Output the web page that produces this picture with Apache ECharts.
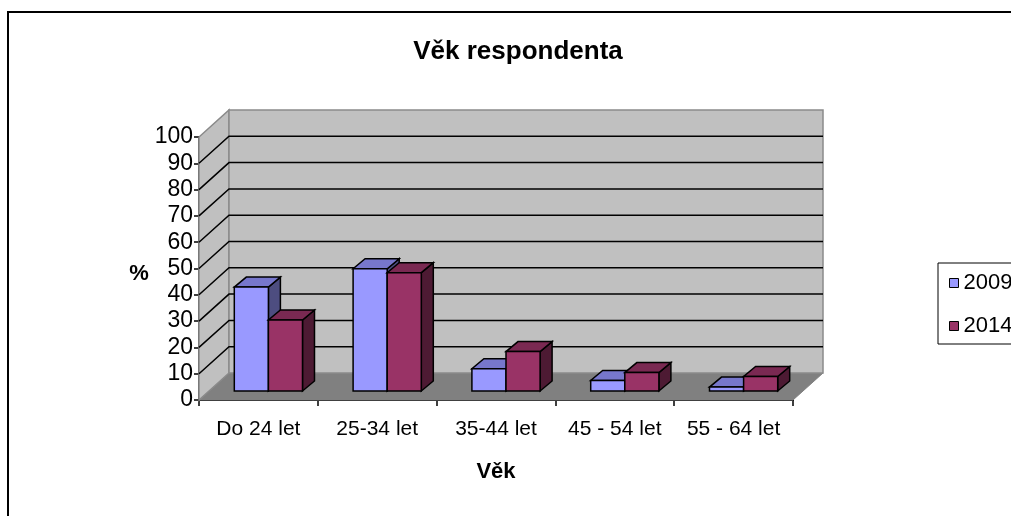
<!DOCTYPE html>
<html>
<head>
<meta charset="utf-8">
<script src="https://cdn.jsdelivr.net/npm/echarts@6/dist/echarts.min.js"></script>
<style>
  html, body { margin: 0; padding: 0; background: #fff; }
  #chart { width: 1011px; height: 516px; }
</style>
</head>
<body>
<div id="chart"></div>
<script>
// data
const categories = ['Do 24 let', '25-34 let', '35-44 let', '45 - 54 let', '55 - 64 let']
const seriesNames = ['2009', '2014']
const values2009 = [39.5, 46.5, 8.5, 4, 1.5]
const values2014 = [27, 45, 15, 7, 5.5]
const yMin = 0
const yMax = 100
const yStep = 10

// colours: front, top, side
const palette = [
  ['#9999ff', '#7777cc', '#4d4d80'],
  ['#993366', '#7a2952', '#4d1a33']
]

const FONT = 'Liberation Sans, Arial, sans-serif'
// wall depth (px) and bar placement within the depth
const DX = 30, DY = -27
const BAR_FX = 10, BAR_FY = -9
const BAR_DX = 12, BAR_DY = -10
const BAR_RATIO = 0.287

const chart = echarts.init(document.getElementById('chart'))

function renderWalls(params, api) {
  const cs = params.coordSys
  const x0 = cs.x, x1 = cs.x + cs.width
  const yb = api.coord([0, yMin])[1]
  const yt = api.coord([0, yMax])[1]
  const children = []
  // floor
  children.push({
    type: 'polygon',
    shape: { points: [[x0, yb], [x1, yb], [x1 + DX, yb + DY], [x0 + DX, yb + DY]] },
    style: { fill: '#808080', stroke: '#808080', lineWidth: 1 }
  })
  // side wall
  children.push({
    type: 'polygon',
    shape: { points: [[x0, yb], [x0, yt], [x0 + DX, yt + DY], [x0 + DX, yb + DY]] },
    style: { fill: '#c0c0c0', stroke: '#8a8a8a', lineWidth: 1.5 }
  })
  // back wall
  children.push({
    type: 'polygon',
    shape: { points: [[x0 + DX, yt + DY], [x1 + DX, yt + DY], [x1 + DX, yb + DY], [x0 + DX, yb + DY]] },
    style: { fill: '#c0c0c0', stroke: '#8a8a8a', lineWidth: 1.5 }
  })
  for (let v = yMin + yStep; v < yMax; v += yStep) {
    const y = api.coord([0, v])[1]
    children.push({
      type: 'polyline',
      shape: { points: [[x0, y], [x0 + DX, y + DY], [x1 + DX, y + DY]] },
      style: { stroke: '#000', lineWidth: 1.5, fill: null }
    })
  }
  return { type: 'group', children: children }
}

function makeBarRenderer(s) {
  const col = palette[s]
  return function (params, api) {
    const idx = api.value(0)
    const base = api.coord([idx, 0])
    const top = api.coord([idx, api.value(1)])
    const band = api.size([1, 0])[0]
    const w = band * BAR_RATIO
    const x = base[0] - w + s * w + BAR_FX
    const yb = base[1] + BAR_FY
    const yt = top[1] + BAR_FY
    const line = { stroke: '#000', lineWidth: 1.5 }
    return {
      type: 'group',
      children: [
        {
          type: 'polygon',
          shape: { points: [[x + w, yt], [x + w + BAR_DX, yt + BAR_DY], [x + w + BAR_DX, yb + BAR_DY], [x + w, yb]] },
          style: Object.assign({ fill: col[2] }, line)
        },
        {
          type: 'polygon',
          shape: { points: [[x, yt], [x + w, yt], [x + w + BAR_DX, yt + BAR_DY], [x + BAR_DX, yt + BAR_DY]] },
          style: Object.assign({ fill: col[1] }, line)
        },
        {
          type: 'rect',
          shape: { x: x, y: yt, width: w, height: yb - yt },
          style: Object.assign({ fill: col[0] }, line)
        }
      ]
    }
  }
}

const option = {
  animation: false,
  backgroundColor: '#fff',
  textStyle: { fontFamily: FONT },
  graphic: [{
    type: 'rect',
    shape: { x: 8, y: 12, width: 1100, height: 600 },
    style: { fill: null, stroke: '#000', lineWidth: 2 },
    silent: true
  }],
  title: [
    {
      text: 'Věk respondenta',
      left: 513,
      top: 34,
      textAlign: 'center',
      textStyle: { fontFamily: FONT, fontSize: 26, fontWeight: 'bold', color: '#000' }
    },
    {
      text: '%',
      left: 134,
      top: 258,
      textAlign: 'center',
      textStyle: { fontFamily: FONT, fontSize: 22, fontWeight: 'bold', color: '#000' }
    }
  ],
  legend: {
    orient: 'vertical',
    left: 938,
    top: 263,
    data: seriesNames,
    icon: 'rect',
    itemWidth: 9,
    itemHeight: 9,
    itemGap: 21,
    padding: [9, 40, 7, 11],
    borderColor: '#000',
    borderWidth: 1,
    itemStyle: { borderColor: '#000', borderWidth: 1 },
    textStyle: { fontFamily: FONT, fontSize: 22, color: '#000' }
  },
  grid: { left: 199, top: 137, width: 594, height: 263 },
  xAxis: {
    type: 'category',
    data: categories,
    name: 'Věk',
    nameLocation: 'middle',
    nameGap: 61,
    nameTextStyle: { fontFamily: FONT, fontSize: 22, fontWeight: 'bold', color: '#000' },
    axisLine: { lineStyle: { color: '#000', width: 2 } },
    axisTick: { show: true, interval: 0, length: 6, lineStyle: { color: '#000', width: 1.5 } },
    axisLabel: { interval: 0, hideOverlap: false, margin: 19, fontFamily: FONT, fontSize: 21, color: '#000' },
    splitLine: { show: false }
  },
  yAxis: {
    type: 'value',
    min: yMin,
    max: yMax,
    interval: yStep,
    axisLine: { show: true, lineStyle: { color: '#000', width: 1.5 } },
    axisTick: { show: true, length: 5, lineStyle: { color: '#000', width: 1.5 } },
    axisLabel: { margin: 6, fontFamily: FONT, fontSize: 23, color: '#000' },
    splitLine: { show: false }
  },
  series: [
    {
      type: 'custom',
      name: 'walls',
      silent: true,
      z: 1,
      renderItem: renderWalls,
      data: [[0, 0]]
    },
    {
      type: 'custom',
      name: seriesNames[0],
      z: 2,
      itemStyle: { color: palette[0][0] },
      renderItem: makeBarRenderer(0),
      data: values2009.map((v, i) => [i, v])
    },
    {
      type: 'custom',
      name: seriesNames[1],
      z: 3,
      itemStyle: { color: palette[1][0] },
      renderItem: makeBarRenderer(1),
      data: values2014.map((v, i) => [i, v])
    }
  ]
}

chart.setOption(option)
</script>
</body>
</html>
